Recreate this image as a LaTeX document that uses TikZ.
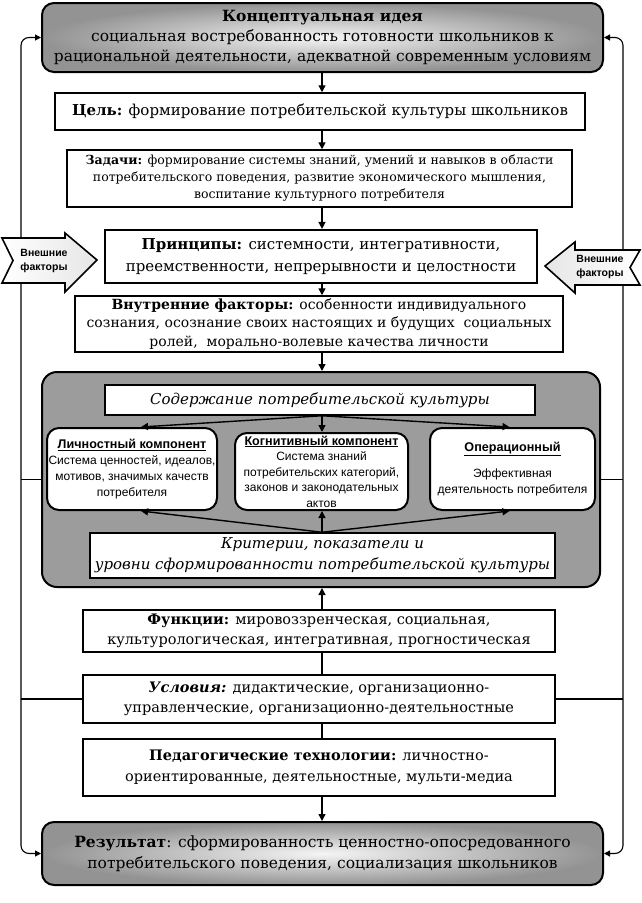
\documentclass[tikz,border=0pt]{standalone}
\usepackage{fontspec}
\setmainfont{DejaVu Serif}
\setsansfont{Liberation Sans}
\usetikzlibrary{arrows.meta,calc}
\newcommand{\comptitle}[1]{{\fontsize{12.6}{16}\selectfont\textbf{\underline{#1}}}}
\begin{document}
\begin{tikzpicture}[x=1pt,y=-1pt,
  box/.style={draw=black,line width=1.5pt,fill=white,align=center,inner sep=0pt},
  bigbox/.style={draw=black,line width=2pt,rounded corners=12pt,align=center,inner sep=0pt,
     inner color=gray!8,outer color=gray!85},
  comp/.style={draw=black,line width=2pt,fill=white,rounded corners=12pt,align=center,inner sep=0pt,font=\sffamily\fontsize{12}{16}\selectfont},
  arr/.style={line width=1.4pt,-{Triangle[length=7pt,width=7pt]}},
  conn/.style={line width=1.4pt},
  side/.style={line width=1.1pt,rounded corners=8pt,{Triangle[length=6pt,width=6pt]}-{Triangle[length=6pt,width=6pt]}},
  ext/.style={draw=black,line width=1.6pt,left color=white,right color=gray!20},
  exttext/.style={font=\sffamily\bfseries\fontsize{10.5}{14}\selectfont,align=center,inner sep=0pt}
]
\useasboundingbox (0,0) rectangle (642,903);
\coordinate (lx) at (21,0);
\coordinate (rx) at (623,0);
\coordinate (mx) at (322,0);

\node[bigbox,minimum width=561pt,minimum height=69pt,font=\fontsize{15.5}{20}\selectfont] (top) at (322.5,37.5)
  {\textbf{Концептуальная идея}\\социальная востребованность готовности школьников к\\рациональной деятельности, адекватной современным условиям};
\node[bigbox,minimum width=561pt,minimum height=63pt,font=\fontsize{15.5}{21}\selectfont] (res) at (322.5,853.5)
  {\textbf{Результат}: сформированность ценностно-опосредованного\\потребительского поведения, социализация школьников};

\node[draw=black,line width=2pt,fill=gray!78,rounded corners=15pt,minimum width=558pt,minimum height=215pt] (panel) at (321,479.5) {};
\node[box,minimum width=472pt,minimum height=48pt,font=\fontsize{14.5}{20}\selectfont] (usl) at (319,699)
  {\textbf{\itshape Условия:} дидактические, организационно-\\управленческие, организационно-деятельностные};

\draw[side] (top.west) -- (top.west -| lx) -- (res.west -| lx) -- (res.west);
\draw[side] (top.east) -- (top.east -| rx) -- (res.east -| rx) -- (res.east);
\draw[conn,line width=1.1pt] (panel.west) -- (panel.west -| lx);
\draw[conn,line width=1.1pt] (panel.east) -- (panel.east -| rx);
\draw[conn,line width=1.1pt] (usl.west) -- (usl.west -| lx);
\draw[conn,line width=1.1pt] (usl.east) -- (usl.east -| rx);

\node[box,minimum width=530pt,minimum height=37pt,font=\fontsize{15}{20}\selectfont] (cel) at (320,111.5)
  {\textbf{Цель:} формирование потребительской культуры школьников};
\node[box,minimum width=505pt,minimum height=57pt,font=\fontsize{12.5}{17}\selectfont] (zad) at (319.5,178.5)
  {\textbf{Задачи:} формирование системы знаний, умений и навыков в области\\потребительского поведения, развитие экономического мышления,\\воспитание культурного потребителя};
\node[box,line width=2.2pt,minimum width=432pt,minimum height=53pt,font=\fontsize{15}{22}\selectfont] (princ) at (321,256.5)
  {\textbf{Принципы:} системности, интегративности,\\преемственности, непрерывности и целостности};
\node[box,minimum width=488pt,minimum height=56pt,font=\fontsize{14}{18.5}\selectfont] (vnut) at (319,324)
  {\textbf{Внутренние факторы:} особенности индивидуального\\сознания, осознание своих настоящих и будущих\ \ социальных\\ролей,\ \ морально-волевые качества личности};

\node[box,minimum width=430pt,minimum height=30pt,font=\itshape\fontsize{15}{20}\selectfont] (sod) at (320,400)
  {Содержание потребительской культуры};
\node[comp,minimum width=170pt,minimum height=82pt] (lich) at (132,469)
  {\comptitle{Личностный компонент}\\Система ценностей, идеалов,\\мотивов, значимых качеств\\потребителя};
\node[comp,minimum width=173pt,minimum height=77pt,font=\sffamily\fontsize{12}{15.5}\selectfont] (kog) at (321.5,471.5)
  {\comptitle{Когнитивный компонент}\\Система знаний\\потребительских категорий,\\законов и законодательных\\актов};
\node[comp,minimum width=165pt,minimum height=82pt] (oper) at (512.5,469)
  {\comptitle{Операционный}\\[10pt]Эффективная\\деятельность потребителя};
\node[box,minimum width=465pt,minimum height=45pt,font=\itshape\fontsize{15}{21}\selectfont] (krit) at (322.5,555.5)
  {Критерии, показатели и\\уровни сформированности потребительской культуры};

\node[box,minimum width=472pt,minimum height=42pt,font=\fontsize{14.5}{20}\selectfont] (func) at (319,631)
  {\textbf{Функции:} мировоззренческая, социальная,\\культурологическая, интегративная, прогностическая};
\node[box,minimum width=472pt,minimum height=57pt,font=\fontsize{14.5}{21}\selectfont] (ped) at (319,767.5)
  {\textbf{Педагогические технологии:} личностно-\\ориентированные, деятельностные, мульти-медиа};

% main vertical arrows
\draw[arr] (top.south -| mx) -- (cel.north -| mx);
\draw[arr] (cel.south -| mx) -- (zad.north -| mx);
\draw[arr] (zad.south -| mx) -- (princ.north -| mx);
\draw[arr] (princ.south -| mx) -- (vnut.north -| mx);
\draw[arr] (vnut.south -| mx) -- (panel.north -| mx);
\draw[arr] (func.north -| mx) -- (panel.south -| mx);
\draw[conn] (usl.north -| mx) -- (func.south -| mx);
\draw[conn] (ped.north -| mx) -- (usl.south -| mx);
\draw[arr] (ped.south -| mx) -- (res.north -| mx);

% inside panel
\draw[arr] (sod.south -| mx) -- ([xshift=9pt]lich.north);
\draw[arr] (sod.south -| mx) -- (kog.north -| mx);
\draw[arr] (sod.south -| mx) -- ([xshift=-3pt]oper.north);
\draw[arr] (krit.north -| mx) -- ([xshift=9pt]lich.south);
\draw[arr] (krit.north -| mx) -- (kog.south -| mx);
\draw[arr] (krit.north -| mx) -- ([xshift=-3pt]oper.south);

% external factors
\path[ext] (2,238) -- (65,238) -- (65,233) -- (97,260) -- (65,292) -- (65,283) -- (2,283) -- (13,260.5) -- cycle;
\node[exttext] (vl) at (44,261) {Внешние\\факторы};
\path[ext,left color=gray!20,right color=white] (640,250) -- (575,250) -- (575,242) -- (545,266) -- (575,293) -- (575,285) -- (640,285) -- (630,267.5) -- cycle;
\node[exttext] (vr) at (600,267) {Внешние\\факторы};
\end{tikzpicture}
\end{document}
